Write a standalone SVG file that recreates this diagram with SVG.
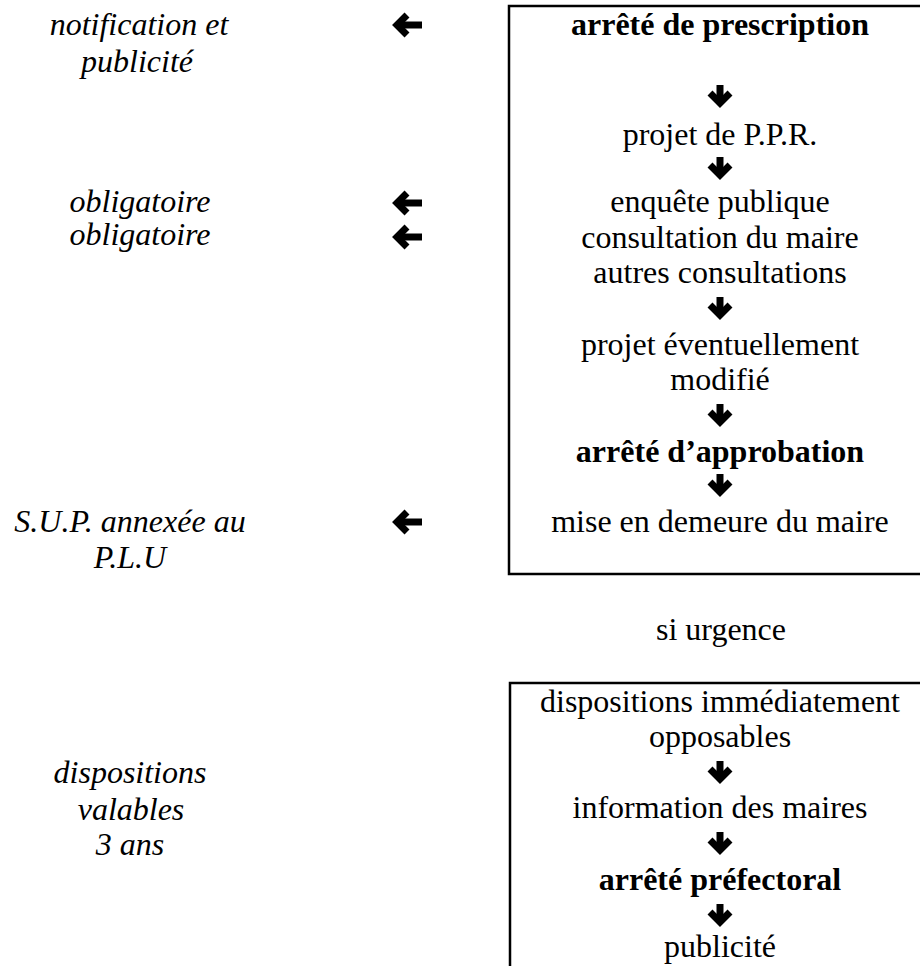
<svg xmlns="http://www.w3.org/2000/svg" xmlns:xlink="http://www.w3.org/1999/xlink" width="920" height="966" viewBox="0 0 920 966">
<style>
text{font-family:"Liberation Serif","Times New Roman",serif;font-size:32px;fill:#000;text-anchor:middle}
.b{font-weight:bold}
.i{font-style:italic}
.box{fill:none;stroke:#000;stroke-width:2.5}
.arw{fill:none;stroke:#000;stroke-width:7;stroke-linejoin:miter;stroke-linecap:butt}
</style>
<defs>
<g id="down"><line class="arw" x1="0" y1="-11" x2="0" y2="6"/><polyline class="arw" points="-10,-3 0,7 10,-3"/></g>
<g id="left"><line class="arw" x1="-8" y1="0" x2="15" y2="0"/><polyline class="arw" points="0,-10 -10,0 0,10"/></g>
</defs>
<rect width="920" height="966" fill="#fff"/>
<g id="box-main"><path class="box" d="M925 6H509V574H925"/></g>
<g id="box-urgence"><path class="box" d="M925 683H510V975"/></g>
<g id="n-prescription"><text class="b" x="720" y="35">arrêté de prescription</text></g>
<g id="n-projet"><text x="720" y="145">projet de P.P.R.</text></g>
<g id="n-consult"><text x="720" y="212">enquête publique</text><text x="720" y="248">consultation du maire</text><text x="720" y="283">autres consultations</text></g>
<g id="n-modifie"><text x="720" y="355">projet éventuellement</text><text x="720" y="390">modifié</text></g>
<g id="n-approbation"><text class="b" x="720" y="462">arrêté d’approbation</text></g>
<g id="n-demeure"><text x="720" y="532">mise en demeure du maire</text></g>
<g id="n-urgence"><text x="721" y="640">si urgence</text></g>
<g id="n-dispositions"><text x="720" y="712">dispositions immédiatement</text><text x="720" y="747">opposables</text></g>
<g id="n-information"><text x="720" y="818">information des maires</text></g>
<g id="n-prefectoral"><text class="b" x="720" y="890">arrêté préfectoral</text></g>
<g id="n-publicite"><text x="720" y="957">publicité</text></g>
<g id="l-notification"><text class="i" x="139" y="35">notification et</text><text class="i" x="137" y="72">publicité</text></g>
<g id="l-obligatoire1"><text class="i" x="140" y="212">obligatoire</text></g>
<g id="l-obligatoire2"><text class="i" x="140" y="245">obligatoire</text></g>
<g id="l-sup"><text class="i" x="130" y="532">S.U.P. annexée au</text><text class="i" x="130" y="568">P.L.U</text></g>
<g id="l-valables"><text class="i" x="130" y="783">dispositions</text><text class="i" x="131" y="820">valables</text><text class="i" x="130" y="855">3 ans</text></g>
<g id="connectors">
<use xlink:href="#down" x="720" y="96"/>
<use xlink:href="#down" x="720" y="168"/>
<use xlink:href="#down" x="720" y="308"/>
<use xlink:href="#down" x="720" y="415"/>
<use xlink:href="#down" x="720" y="485"/>
<use xlink:href="#down" x="720" y="772"/>
<use xlink:href="#down" x="720" y="843"/>
<use xlink:href="#down" x="720" y="915"/>
<use xlink:href="#left" x="407" y="25"/>
<use xlink:href="#left" x="407" y="203"/>
<use xlink:href="#left" x="407" y="237"/>
<use xlink:href="#left" x="407" y="522"/>
</g>
</svg>
